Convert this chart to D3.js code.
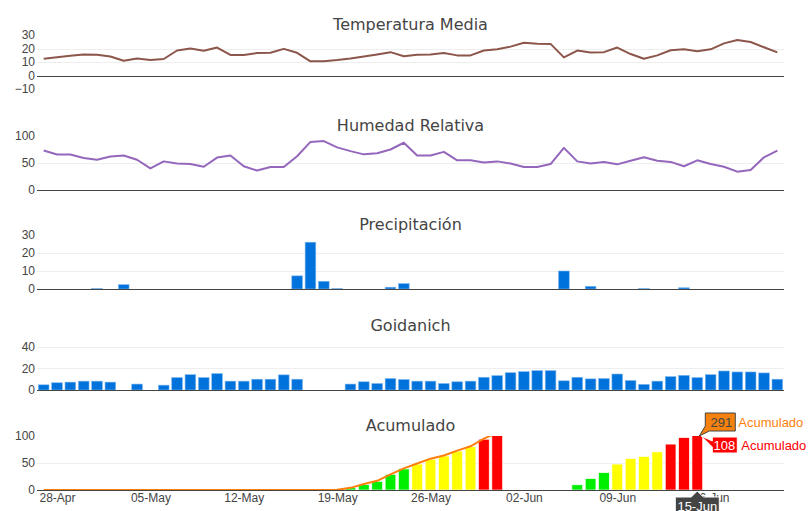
<!DOCTYPE html>
<html>
<head>
<meta charset="utf-8">
<script src="https://cdn.jsdelivr.net/npm/d3@7"></script>
<style>
  body { margin: 0; background: #fff; }
  svg { display: block; font-family: "DejaVu Sans", Verdana, sans-serif; }
</style>
</head>
<body>
<div id="chart"></div>
<script>
// Daily series, one value per day starting on START_DAY
const START_DAY = '2019-04-27';

const temperatura = [12.4, 13.6, 14.6, 15.6, 15.3, 14.1, 10.9, 12.6, 11.4, 12.2, 18.5, 20, 18.3, 20.7,
  15.2, 15.2, 16.6, 16.8, 19.7, 16.8, 10.5, 10.5, 11.4, 12.6, 14.1, 15.6, 17.3, 14.3,
  15.3, 15.6, 16.6, 14.9, 14.9, 18.5, 19.4, 21.4, 24.3, 23.6, 23.4, 13.4, 18.5, 17.1,
  17.3, 20.7, 15.9, 12.4, 14.9, 18.7, 19.4, 18, 19.4, 23.8, 26.3, 24.8, 20.9, 17.1];

const humedad = [73, 65.6, 65.6, 59.4, 56, 62, 64, 56, 40, 53, 49, 48, 43, 60,
  64, 44, 36, 42.5, 42.5, 62.5, 89, 90.6, 79, 72, 66, 68, 75, 87.5,
  64, 64, 70.6, 55, 55, 51, 53, 49, 42.5, 42.5, 48, 78, 53, 49,
  52, 47.5, 54, 60.6, 54, 52, 44, 55, 48, 43, 34, 37, 60.6, 73];

const precipitacion = [0, 0, 0, 0, 0.2, 0, 2.4, 0, 0, 0, 0, 0, 0, 0,
  0, 0, 0, 0, 0, 7.3, 26, 4.3, 0.2, 0, 0, 0, 1, 3,
  0, 0, 0, 0, 0, 0, 0, 0, 0, 0, 0, 10, 0, 1.5,
  0, 0, 0, 0.2, 0, 0, 0.7, 0, 0, 0, 0, 0, 0, 0];

const goidanich = [4.8, 6.7, 7.3, 8.2, 8.2, 7.3, 0, 5.5, 0, 4.5, 11.5, 14.2, 11.5, 15.2,
  8.2, 8.2, 10, 10, 14, 10, 0, 0, 0, 5.5, 7.6, 6, 10.6, 9.7,
  8.2, 8.2, 6, 7.6, 8.2, 11.8, 13.3, 16, 17, 17.9, 17.9, 8.5, 11.8, 10.3,
  10.6, 14.8, 8.8, 5.2, 8.2, 12.4, 13.6, 11.5, 14.2, 17.6, 16.7, 16.7, 15.8, 10];

// accumulated per run (bars) and overall total (line), up to 15-Jun
const acumuladoBarras = [0, 0, 0, 0, 0, 0, 0, 0, 0, 0, 0, 0, 0, 0,
  0, 0, 0, 0, 0, 0, 0, 0, 0.5, 4, 10, 16, 29, 39,
  48, 57, 63, 72, 80, 94, 104, 0, 0, 0, 0, 0, 9.6, 21,
  32, 48, 58, 62, 70.5, 85, 97, 108];

const acumuladoTotal = [0, 0, 0, 0, 0, 0, 0, 0, 0, 0, 0, 0, 0, 0,
  0, 0, 0, 0, 0, 0, 0, 0, 0.5, 4, 11, 17, 29, 40,
  49, 58, 64, 73, 81, 95, 106, 122, 139, 157, 175, 183, 193, 204,
  215, 231, 241, 245, 254, 268, 280, 291];

const xTickDays = ['2019-04-28', '2019-05-05', '2019-05-12', '2019-05-19',
  '2019-05-26', '2019-06-02', '2019-06-09', '2019-06-16'];

const hoverDay = '2019-06-15';
const hoverTotal = 291;
const hoverBarValue = 108;

const width = 811;
const height = 511;
const plotLeft = 37;
const plotRight = 784;
const panelHeight = 54;

const parseDay = d3.timeParse('%Y-%m-%d');
const start = parseDay(START_DAY);
const days = d3.timeDay.range(start, d3.timeDay.offset(start, temperatura.length));

const x = d3.scaleTime()
  .domain([d3.timeHour.offset(parseDay('2019-04-26'), 12), d3.timeHour.offset(parseDay('2019-06-21'), 12)])
  .range([plotLeft, plotRight]);

const dayWidth = x(d3.timeDay.offset(start, 1)) - x(start);

const svg = d3.select('#chart').append('svg')
  .attr('width', width)
  .attr('height', height)
  .attr('viewBox', `0 0 ${width} ${height}`);

const colorAcum = d3.scaleThreshold()
  .domain([40, 82])
  .range(['#00ee00', '#ffff00', '#ff0000']);

const panels = [
  { title: 'Temperatura Media', top: 35, domain: [-10, 30], ticks: [-10, 0, 10, 20, 30] },
  { title: 'Humedad Relativa', top: 136, domain: [0, 100], ticks: [0, 50, 100] },
  { title: 'Precipitación', top: 235, domain: [0, 30], ticks: [0, 10, 20, 30] },
  { title: 'Goidanich', top: 336, domain: [0, 50], ticks: [0, 20, 40] },
  { title: 'Acumulado', top: 436, domain: [0, 100], ticks: [0, 50, 100] }
];

function minusFormat(d) {
  return d < 0 ? '\u2212' + Math.abs(d) : String(d);
}

function drawPanel(p, idx) {
  let y = d3.scaleLinear()
    .domain(p.domain)
    .range([p.top + panelHeight, p.top]);

  let g = svg.append('g').attr('class', 'panel');

  // grid lines only inside the range, zero line handled apart
  g.selectAll('line.grid')
    .data(p.ticks.filter(t => t > p.domain[0] && t < p.domain[1] && t !== 0))
    .join('line')
    .attr('class', 'grid')
    .attr('x1', plotLeft)
    .attr('x2', plotRight)
    .attr('y1', d => Math.round(y(d)) + 0.5)
    .attr('y2', d => Math.round(y(d)) + 0.5)
    .attr('stroke', '#eee')
    .attr('stroke-width', 1);

  let yAxis = d3.axisLeft(y)
    .tickValues(p.ticks)
    .tickFormat(minusFormat)
    .tickSize(0)
    .tickPadding(2);

  g.append('g')
    .attr('transform', `translate(${plotLeft},0)`)
    .call(yAxis)
    .call(a => a.select('.domain').remove())
    .selectAll('text')
    .attr('fill', '#444')
    .style('font-size', '12px');

  g.append('text')
    .attr('x', (plotLeft + plotRight) / 2)
    .attr('y', p.top - 5)
    .attr('text-anchor', 'middle')
    .attr('fill', '#444')
    .style('font-size', '16px')
    .text(p.title);

  svg.append('clipPath')
    .attr('id', 'clip' + idx)
    .append('rect')
    .attr('x', plotLeft)
    .attr('y', p.top)
    .attr('width', plotRight - plotLeft)
    .attr('height', panelHeight);

  let zeroY = Math.round(y(0)) + 0.5;
  g.append('line')
    .attr('x1', plotLeft)
    .attr('x2', plotRight)
    .attr('y1', zeroY)
    .attr('y2', zeroY)
    .attr('stroke', '#444')
    .attr('stroke-width', 1);

  let marks = svg.append('g').attr('clip-path', `url(#clip${idx})`);
  return { y: y, marks: marks };
}

function drawLine(layer, y, values, color) {
  let line = d3.line()
    .x((d, i) => x(days[i]))
    .y(d => y(d));
  layer.append('path')
    .datum(values)
    .attr('d', line)
    .attr('fill', 'none')
    .attr('stroke', color)
    .attr('stroke-width', 2)
    .attr('stroke-linejoin', 'round');
}

function drawBars(layer, y, values, fill, stroke) {
  let bw = dayWidth * 0.8;
  layer.selectAll('rect.bar')
    .data(values.map((v, i) => ({ day: days[i], value: v })).filter(d => d.value > 0))
    .join('rect')
    .attr('class', 'bar')
    .attr('x', d => x(d.day) - bw / 2)
    .attr('width', bw)
    .attr('y', d => y(d.value))
    .attr('height', d => y(0) - y(d.value))
    .attr('fill', d => typeof fill === 'function' ? fill(d.value) : fill)
    .attr('stroke', stroke)
    .attr('stroke-width', 0.6);
}

let p1 = drawPanel(panels[0], 0);
drawLine(p1.marks, p1.y, temperatura, '#8c564b');

let p2 = drawPanel(panels[1], 1);
drawLine(p2.marks, p2.y, humedad, '#9467bd');

let p3 = drawPanel(panels[2], 2);
drawBars(p3.marks, p3.y, precipitacion, '#0072dc', '#7fb8ee');

let p4 = drawPanel(panels[3], 3);
drawBars(p4.marks, p4.y, goidanich, '#0072dc', '#7fb8ee');

let p5 = drawPanel(panels[4], 4);
drawBars(p5.marks, p5.y, acumuladoBarras, colorAcum, '#fff');
drawLine(p5.marks, p5.y, acumuladoTotal, '#ff7f0e');

// shared date axis under the last panel
let xAxis = d3.axisBottom(x)
  .tickValues(xTickDays.map(parseDay))
  .tickFormat(d3.timeFormat('%d-%b'))
  .tickSize(0)
  .tickPadding(3);

svg.append('g')
  .attr('transform', `translate(0,${panels[4].top + panelHeight})`)
  .call(xAxis)
  .call(a => a.select('.domain').remove())
  .selectAll('text')
  .attr('fill', '#444')
  .style('font-size', '12px');

// hover labels at 15-Jun
let hx = x(parseDay(hoverDay));
let hy = p5.y.range()[1];
let hover = svg.append('g')
  .attr('class', 'hover')
  .style('font-family', '"Liberation Sans", Arial, sans-serif')
  .style('font-size', '13px');

hover.append('path')
  .attr('d', `M${hx + 2},${hy} L${hx + 8},${hy - 10} V${hy - 23} H${hx + 38} V${hy - 5} H${hx + 12} Z`)
  .attr('fill', '#f5820f')
  .attr('stroke', '#444')
  .attr('stroke-width', 1);
hover.append('text')
  .attr('x', hx + 24)
  .attr('y', hy - 9)
  .attr('text-anchor', 'middle')
  .attr('fill', '#444')
  .text(hoverTotal);
hover.append('text')
  .attr('x', hx + 41)
  .attr('y', hy - 9)
  .attr('fill', '#ff7f0e')
  .text('Acumulado');

hover.append('path')
  .attr('d', `M${hx + 4},${hy} L${hx + 15},${hy + 5} V${hy + 1} H${hx + 40} V${hy + 17} H${hx + 15} V${hy + 11} Z`)
  .attr('fill', '#ff0000')
  .attr('stroke', '#fff')
  .attr('stroke-width', 1);
hover.append('text')
  .attr('x', hx + 27)
  .attr('y', hy + 14)
  .attr('text-anchor', 'middle')
  .attr('fill', '#fff')
  .text(hoverBarValue);
hover.append('text')
  .attr('x', hx + 44)
  .attr('y', hy + 14)
  .attr('fill', '#ff0000')
  .text('Acumulado');

let by = panels[4].top + panelHeight;
hover.append('path')
  .attr('d', `M${hx},${by + 1} L${hx + 6},${by + 7} H${hx + 22} V${by + 30} H${hx - 22} V${by + 7} H${hx - 6} Z`)
  .attr('fill', '#444')
  .attr('stroke', '#fff')
  .attr('stroke-width', 1);
hover.append('text')
  .attr('x', hx)
  .attr('y', by + 21)
  .attr('text-anchor', 'middle')
  .attr('fill', '#fff')
  .text(d3.timeFormat('%d-%b')(parseDay(hoverDay)));
</script>
</body>
</html>
